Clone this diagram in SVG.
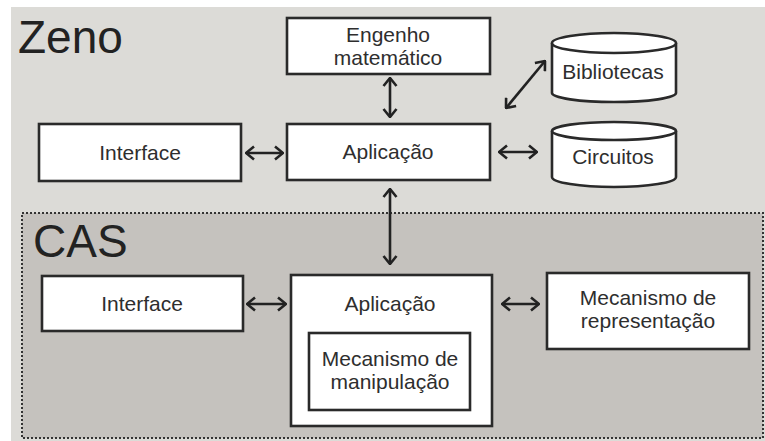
<svg xmlns="http://www.w3.org/2000/svg" width="765" height="441" viewBox="0 0 765 441">
<defs>
<marker id="ah" viewBox="0 0 10 16" refX="9" refY="8" markerWidth="10" markerHeight="16" markerUnits="userSpaceOnUse" orient="auto-start-reverse">
<path d="M1,1.5 L9,8 L1,14.5" fill="none" stroke="#222" stroke-width="2.6"/>
</marker>
<style>
.box{fill:#fff;stroke:#2a2a2a;stroke-width:2.6}
.t{font-family:"Liberation Sans",Arial,sans-serif;font-size:21px;fill:#2e2e2e;text-anchor:middle}
.big{font-family:"Liberation Sans",Arial,sans-serif;font-size:46px;fill:#222}
.c{fill:none;stroke:#222;stroke-width:2.6;marker-start:url(#ah);marker-end:url(#ah)}
</style>
</defs>
<rect x="0" y="0" width="765" height="441" fill="#fff"/>
<rect x="11" y="7" width="754" height="434" fill="#dcdbd7"/>
<g id="cas-region">
<rect x="22" y="213" width="741" height="225" fill="#c5c2be" stroke="#333" stroke-width="2" stroke-dasharray="2 2"/>
</g>
<text class="big" x="18" y="53">Zeno</text>
<text class="big" x="33" y="257">CAS</text>
<g id="engenho"><rect class="box" x="287" y="18" width="203" height="56"/><text class="t" x="388" y="42">Engenho</text><text class="t" x="388" y="65">matemático</text></g>
<g id="zeno-interface"><rect class="box" x="39" y="124" width="202" height="57"/><text class="t" x="140" y="160">Interface</text></g>
<g id="zeno-aplicacao"><rect class="box" x="287" y="124" width="203" height="56"/><text class="t" x="388" y="159">Aplicação</text></g>
<g id="bibliotecas"><path class="box" d="M552,43 L552,93 A62,9 0 0 0 676,93 L676,43"/><ellipse class="box" cx="614" cy="43" rx="62" ry="10"/><text class="t" x="613" y="79">Bibliotecas</text></g>
<g id="circuitos"><path class="box" d="M552,131 L552,177 A62,10 0 0 0 676,177 L676,131"/><ellipse class="box" cx="614" cy="131" rx="62" ry="9"/><text class="t" x="613" y="164">Circuitos</text></g>
<g id="cas-interface"><rect class="box" x="42" y="276" width="201" height="55"/><text class="t" x="142" y="311">Interface</text></g>
<g id="cas-aplicacao"><rect class="box" x="291" y="275" width="201" height="151"/><text class="t" x="390" y="311">Aplicação</text></g>
<g id="mecanismo-manipulacao"><rect class="box" x="309" y="333" width="161" height="77"/><text class="t" x="390" y="366">Mecanismo de</text><text class="t" x="390" y="389">manipulação</text></g>
<g id="mecanismo-representacao"><rect class="box" x="547" y="273" width="202" height="76"/><text class="t" x="648" y="305">Mecanismo de</text><text class="t" x="648" y="328">representação</text></g>
<g id="connectors">
<line class="c" x1="246" y1="153" x2="283" y2="153"/>
<line class="c" x1="390" y1="78" x2="390" y2="117"/>
<line class="c" x1="506" y1="108" x2="545" y2="61"/>
<line class="c" x1="499" y1="152" x2="537" y2="152"/>
<line class="c" x1="390" y1="189" x2="390" y2="264"/>
<line class="c" x1="247" y1="304" x2="286" y2="304"/>
<line class="c" x1="502" y1="304" x2="539" y2="304"/>
</g>
</svg>
